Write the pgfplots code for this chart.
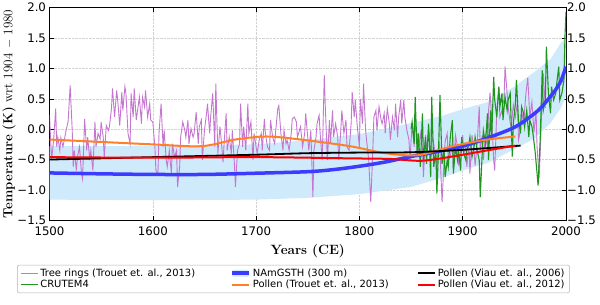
\documentclass[border=0pt]{standalone}
\usepackage{fontspec}
\setsansfont{DejaVu Sans}
\usepackage{pgfplots}
\pgfplotsset{compat=1.18}
\definecolor{treec}{RGB}{196,118,208}
\definecolor{crutc}{RGB}{30,150,30}
\definecolor{bluec}{RGB}{60,60,255}
\definecolor{bandc}{RGB}{206,234,251}
\definecolor{orangec}{RGB}{255,128,40}
\definecolor{redc}{RGB}{255,0,0}
\begin{document}
\begin{tikzpicture}
\begin{axis}[
  scale only axis, width=516.5bp, height=212.6bp,
  xmin=1500, xmax=2000, ymin=-1.5, ymax=2.0,
  xtick={1500,1600,1700,1800,1900,2000},
  xticklabels={1500,1600,1700,1800,1900,2000},
  ytick={-1.5,-1.0,-0.5,0,0.5,1.0,1.5,2.0},
  yticklabels={−1.5,−1.0,−0.5,0.0,0.5,1.0,1.5,2.0},
  ticklabel style={font=\sffamily\fontsize{11.8}{13}\selectfont},
  xticklabel style={yshift=-3bp},
  tick align=inside, major tick length=4bp,
  tick style={black, line width=0.6bp},
  axis line style={line width=0.8bp},
  grid=major, major grid style={densely dotted, gray!35, line width=0.5bp},
  xlabel={\textbf{Years (CE)}},
  xlabel style={at={(axis description cs:0.5,-0.146)}, anchor=center, font=\fontsize{13.5}{15}\selectfont},
  ylabel={\textbf{Temperature (K)} wrt 1904 $-$ 1980},
  ylabel style={at={(axis description cs:-0.078,0.5)}, anchor=center, font=\fontsize{13.2}{15}\selectfont},
  legend columns=3,
  legend cell align=left,
  legend style={at={(axis description cs:-0.0629,-0.210)}, anchor=north west,
    draw=gray!60, rounded corners=2bp, line width=0.5bp,
    font=\sffamily\fontsize{10}{12}\selectfont,
    row sep=-1.5bp, inner ysep=1.5bp},
]
% uncertainty band
\addplot[fill=bandc, draw=none, forget plot] coordinates {
(1500,-1.16)(1600,-1.17)(1700,-1.16)(1750,-1.13)(1800,-1.07)(1850,-0.95)(1880,-0.80)(1900,-0.68)(1925,-0.55)(1950,-0.33)(1970,-0.15)(1985,0.10)(1995,0.35)(2000,0.55)
(2000,1.50)(1995,1.42)(1985,1.15)(1970,0.95)(1950,0.70)(1925,0.45)(1900,0.33)(1880,0.22)(1850,0.10)(1800,-0.08)(1750,-0.18)(1700,-0.25)(1600,-0.28)(1500,-0.28)
} -- cycle;
% tree rings
\addplot[treec, line width=0.9bp, forget plot] coordinates {
(1500,0.23)(1502,-0.51)(1504,-0.18)(1506,0.34)(1507,-0.29)(1508,-0.13)(1510,-0.35)(1511,-0.14)(1513,-0.29)(1515,-0.12)(1516,-0.02)(1518,0.12)(1520,0.72)(1522,-0.02)(1523,-0.62)(1524,-0.35)(1526,-0.68)(1527,-0.46)(1529,-0.29)(1531,-0.73)(1532,-0.82)(1534,0.17)(1536,-0.35)(1537,-0.13)(1539,-0.51)(1540,-0.35)(1542,-0.68)(1544,0.12)(1545,-0.29)(1547,-0.07)(1549,-0.16)(1550,0.12)(1552,-0.13)(1553,-0.46)(1555,0.06)(1557,-0.02)(1558,0.04)(1560,0.34)(1561,0.67)(1563,0.20)(1565,0.64)(1566,0.48)(1568,0.06)(1570,0.61)(1571,0.31)(1573,0.70)(1574,0.59)(1576,-0.07)(1578,-0.24)(1579,0.59)(1581,0.20)(1582,0.67)(1584,0.15)
(1587,0.53)(1589,0.09)(1590,0.53)(1592,0.37)(1593,0.64)(1595,0.20)(1597,0.42)(1598,0.15)(1600,0.12)(1602,-0.29)(1603,-0.68)(1605,-0.73)(1606,-0.07)(1608,0.42)(1610,-0.29)(1611,-0.02)(1613,-0.51)(1614,-0.62)(1616,-0.35)(1618,-0.73)(1619,-0.24)(1621,-0.46)(1623,-0.35)(1624,-0.95)(1626,-0.62)(1627,-0.13)(1629,0.12)(1631,-0.02)(1632,-0.13)(1634,0.15)(1635,-0.24)(1637,0.01)(1639,-0.13)(1640,-0.07)(1642,0.28)(1644,-0.24)(1645,0.04)(1647,0.15)(1648,-0.51)(1650,-0.02)(1652,0.26)(1653,0.42)(1655,-0.07)(1656,0.20)(1658,0.59)(1660,-0.29)(1661,0.75)(1663,-0.40)(1665,0.04)(1666,-0.13)(1668,-0.54)(1669,-0.24)
(1671,0.26)(1672,-0.35)(1674,-0.13)(1676,-0.40)(1677,-0.02)(1679,-0.57)(1680,-0.95)(1682,-0.35)(1684,-0.24)(1685,0.42)(1687,-0.29)(1688,0.04)(1690,-0.35)(1692,0.42)(1693,-0.07)(1695,0.12)(1697,-0.51)(1698,-0.07)(1700,-0.29)(1701,-0.40)(1703,-0.18)(1705,-0.07)(1706,-0.35)(1708,0.17)(1709,-0.07)(1711,-0.29)(1713,-0.35)(1714,0.15)(1716,-0.13)(1718,-0.24)(1719,-0.02)(1721,0.34)(1722,0.39)(1724,-0.07)(1726,-0.35)(1727,-0.02)(1729,-0.24)(1730,-0.18)(1732,-0.35)(1734,-0.07)(1735,0.17)(1737,0.20)(1739,0.12)(1740,-0.13)(1742,-0.02)(1743,0.04)(1745,-0.29)(1747,-0.07)(1748,0.26)(1750,-0.13)(1751,-0.35)(1753,-0.02)(1755,-1.12)
(1756,-0.35)(1758,-0.13)(1759,0.09)(1761,0.23)(1762,-0.07)(1764,-0.51)(1766,0.89)(1767,0.37)(1769,-0.51)(1771,0.15)(1772,-0.24)(1774,0.31)(1775,-0.13)(1777,0.09)(1779,-0.13)(1780,-0.51)(1782,-0.02)(1783,0.31)(1785,-0.07)(1787,0.15)(1788,-0.29)(1790,-0.35)(1792,0.09)(1793,0.61)(1795,0.20)(1796,0.48)(1798,0.04)(1800,-0.29)(1801,0.50)(1803,0.09)(1804,0.75)(1806,-0.02)(1808,-0.35)(1809,-0.51)(1811,-1.20)(1813,-0.35)(1814,0.20)(1816,0.31)(1817,-0.02)(1819,0.37)(1821,0.15)(1822,0.09)(1824,0.26)(1825,-0.07)(1827,0.34)(1829,0.09)(1830,-0.18)(1832,0.20)(1834,-0.02)(1835,0.42)(1837,-0.13)(1838,0.20)(1840,0.48)
(1841,0.09)(1843,0.48)(1844,0.20)(1846,-0.02)(1848,-0.18)(1849,-0.51)(1851,0.09)(1853,-0.29)(1854,0.1)(1856,-0.18)(1857,-0.4)(1859,-0.07)(1861,-0.3)(1862,-0.79)(1864,-0.1)(1865,-0.35)(1867,0.0)(1869,-0.46)(1870,-0.1)(1872,-0.24)(1874,-0.5)(1875,-0.62)(1877,-0.2)(1878,-0.35)(1880,-1.20)(1882,-0.51)(1883,-0.2)(1885,-0.07)(1886,-0.5)(1888,-0.46)(1890,-0.2)(1891,-0.68)(1893,-0.1)(1895,-0.29)(1896,-0.6)(1898,-0.35)(1900,-0.1)(1901,-0.40)(1903,-0.3)(1904,-0.62)(1906,-0.24)(1907,-0.73)(1909,-0.1)(1911,-0.35)(1912,-0.6)(1914,-0.24)(1916,0.37)(1917,-0.35)(1919,-0.1)(1920,-0.51)(1922,-0.1)(1924,-0.29)(1925,0.3)
(1926.5,0.6)(1928,0.2)(1930,-0.51)(1931,-0.68)(1933,0.3)(1935,0.7)(1936,0.2)(1938,0.31)(1940,0.5)(1941,1.03)(1943,0.59)(1944,0.37)(1946,0.1)(1947,0.04)(1949,0.4)(1951,0.20)(1953,0.45)(1954,-0.18)(1955,-0.1)(1957,0.3)(1959,0.1)(1961,0.55)(1963,0.85)(1965,0.2)(1967,0.45)(1969,-0.05)(1971,0.3)(1972,-0.3)(1974,-0.8)(1975,-0.4)(1977,0.6)(1978,0.92)(1980,0.35)
};
% CRUTEM4
\addplot[crutc, line width=1.1bp, forget plot] coordinates {
(1850,0.0)(1851,0.12)(1853,-0.24)(1854,0.53)(1856,-0.46)(1857,-0.07)(1859,-0.62)(1861,0.26)(1862,-0.51)(1864,-0.13)(1865,-0.57)(1867,0.09)(1869,-0.79)(1870,0.53)(1872,-0.62)(1874,-0.35)(1875,-1.06)(1877,-0.13)(1878,0.56)(1880,-0.57)(1882,-0.35)(1883,-0.79)(1885,-0.51)(1886,-0.62)(1888,-0.13)(1890,0.15)(1891,-0.73)(1893,-0.29)(1895,-0.51)(1896,-0.35)(1898,-0.68)(1899,-0.13)(1901,-0.40)(1903,-0.51)(1904,-0.35)(1906,-0.24)(1907,-0.13)(1909,-0.46)(1911,-0.29)(1912,-0.13)(1914,-0.35)(1916,-0.51)(1917,-1.12)(1919,-0.35)(1920,-0.02)(1922,-0.24)(1924,0.26)(1925,-0.51)(1927,0.31)(1928,-0.18)(1930,0.86)(1931,0.48)(1933,0.20)(1935,0.70)(1936,0.37)(1938,0.59)(1939,0.15)(1941,0.53)(1943,0.31)(1944,0.48)(1946,0.59)(1948,-0.45)(1949,0.09)(1951,0.42)(1952,0.81)(1954,0.15)(1956,-0.07)(1957,0.37)(1959,0.26)(1960,0.04)(1962,0.31)(1964,-0.13)(1965,0.15)(1967,0.04)(1968,-0.07)(1970,-0.35)(1972,-0.73)(1973,-0.93)(1975,-0.18)(1977,0.97)(1978,0.31)(1980,0.48)(1981,1.36)(1983,0.59)(1985,0.26)(1986,0.70)(1988,0.48)(1990,0.59)(1991,0.75)(1993,1.03)(1994,0.48)(1996,0.59)(1998,0.81)(1999,1.52)(2000,1.93)
};
% NAmGSTH
\addplot[bluec, line width=3.5bp, smooth, forget plot] coordinates {
(1500,-0.72)(1550,-0.735)(1600,-0.745)(1650,-0.745)(1700,-0.725)(1750,-0.70)(1775,-0.665)(1800,-0.61)(1825,-0.54)(1850,-0.45)(1875,-0.37)(1900,-0.28)(1925,-0.14)(1950,0.03)(1965,0.20)(1975,0.34)(1985,0.54)(1990,0.65)(1995,0.79)(2000,1.03)
};
% Pollen Trouet
\addplot[orangec, line width=2bp, smooth, forget plot] coordinates {
(1500,-0.17)(1550,-0.21)(1600,-0.25)(1647,-0.28)(1680,-0.17)(1710,-0.12)(1743,-0.17)(1791,-0.28)(1823,-0.39)(1856,-0.43)(1888,-0.29)(1920,-0.18)(1951,-0.12)
};
% Pollen Viau 2006
\addplot[black, line width=1.8bp, smooth, forget plot] coordinates {
(1500,-0.50)(1600,-0.46)(1700,-0.42)(1750,-0.395)(1800,-0.385)(1850,-0.38)(1900,-0.34)(1956,-0.27)
};
% Pollen Viau 2012
\addplot[redc, line width=2bp, smooth, forget plot] coordinates {
(1500,-0.46)(1600,-0.47)(1700,-0.46)(1790,-0.48)(1830,-0.49)(1860,-0.52)(1890,-0.45)(1920,-0.36)(1951,-0.27)
};
% legend (row-wise order)
\addlegendimage{treec, line width=0.9bp}
\addlegendentry{\makebox[188bp][l]{Tree rings (Trouet et. al., 2013)}}
\addlegendimage{legend image code/.code={\fill[bandc] (0cm,-0.11cm) rectangle (0.6cm,0.11cm); \draw[bluec, line width=3.5bp] (0cm,0cm) -- (0.6cm,0cm);}}
\addlegendentry{\makebox[162bp][l]{NAmGSTH (300 m)}}
\addlegendimage{black, line width=1.8bp}
\addlegendentry{Pollen (Viau et. al., 2006)}
\addlegendimage{crutc, line width=1.1bp}
\addlegendentry{\makebox[188bp][l]{CRUTEM4}}
\addlegendimage{orangec, line width=2bp}
\addlegendentry{\makebox[162bp][l]{Pollen (Trouet et. al., 2013)}}
\addlegendimage{redc, line width=2bp}
\addlegendentry{Pollen (Viau et. al., 2012)}
\end{axis}
\begin{axis}[
  scale only axis, width=516.5bp, height=212.6bp,
  xmin=1500, xmax=2000, ymin=-1.5, ymax=2.0,
  xtick=\empty,
  ytick={-1.5,-1.0,-0.5,0,0.5,1.0,1.5,2.0},
  yticklabels={−1.5,−1.0,−0.5,0.0,0.5,1.0,1.5,2.0},
  yticklabel pos=right,
  ytick style={draw=none},
  axis line style={draw=none},
  yticklabel style={font=\sffamily\fontsize{11.8}{13}\selectfont, inner xsep=1bp},
]
\end{axis}
\pgfresetboundingbox
\path[use as bounding box] (-49.5bp,-84.7bp) rectangle (550.5bp,220.3bp);
\end{tikzpicture}
\end{document}
